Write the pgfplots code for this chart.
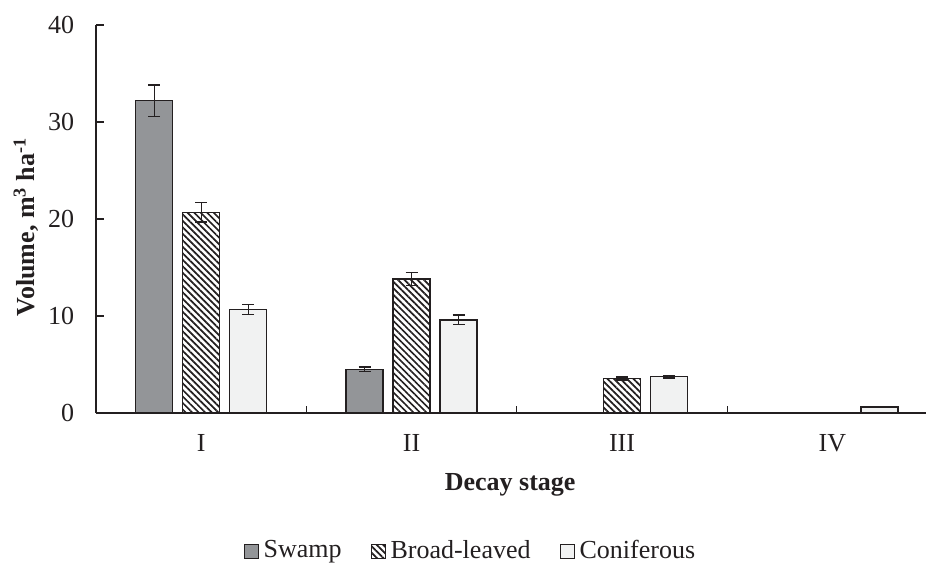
\documentclass[border=0pt]{standalone}
\usepackage{fontspec}
\setmainfont{Liberation Serif}
\usepackage{pgfplots}
\pgfplotsset{compat=1.18}
\usetikzlibrary{patterns.meta}
\definecolor{axcol}{HTML}{231F20}
\definecolor{swamp}{HTML}{939598}
\definecolor{conif}{HTML}{F1F2F2}
\newcommand{\bigfont}{\fontsize{26}{30}\selectfont}
\begin{document}
\bigfont
\begin{tikzpicture}[x=1pt,y=1pt]
\useasboundingbox (0,0) rectangle (928,565);
\begin{axis}[
  at={(96pt,152pt)}, anchor=south west,
  width=830pt, height=388pt, scale only axis,
  xmin=-0.5, xmax=3.445, ymin=0, ymax=40,
  axis lines*=left,
  axis line style={-, draw=axcol, line width=1.3pt},
  ybar,
  ytick={0,10,20,30,40},
  xtick={0,1,2,3}, xticklabels={I,II,III,IV},
  minor xtick={0.5,1.5,2.5},
  major x tick style={draw=none},
  minor x tick style={draw=axcol, line width=1.3pt},
  y tick style={draw=axcol, line width=1.3pt},
  tick align=inside,
  major tick length=8pt, minor tick length=7pt,
  /pgf/number format/assume math mode=true,
  tick label style={font=\bigfont, text=axcol},
  yticklabel style={xshift=-13pt},
  xticklabel style={yshift=-13pt},
  ylabel={\bfseries Volume, m\textsuperscript{3} ha\textsuperscript{-1}},
  ylabel style={at={(axis description cs:-0.0843,0.479)}, anchor=center, font=\bigfont, text=axcol},
  xlabel={\bfseries Decay stage},
  xlabel style={at={(axis description cs:0.499,-0.1856)}, anchor=center, font=\bigfont, text=axcol},
  bar width=37pt,
  legend style={at={(axis description cs:0.451,-0.356)}, anchor=center, draw=none, fill=none,
    font=\bigfont, text=axcol, legend columns=3,
    /tikz/every even column/.append style={column sep=27pt},
    /tikz/every odd column/.append style={column sep=3pt}},
  legend image code/.code={\draw[#1,/tikz/.cd,line width=1pt] (0pt,-7pt) rectangle (14pt,7pt);},
  error bars/y dir=both, error bars/y explicit,
  error bars/error bar style={line width=1.3pt, draw=axcol},
  error bars/error mark options={rotate=90, mark size=6pt, line width=1.3pt, draw=axcol},
]
\addplot[ybar, bar shift=-47pt, fill=swamp, draw=axcol, line width=1.3pt]
  coordinates {(0,32.2) +- (0,1.6) (1,4.5) +- (0,0.25)};
\addlegendentry{Swamp}
\addplot[ybar, bar shift=0pt, draw=axcol, line width=1.3pt,
  pattern={Lines[angle=-45, distance=4.6pt, line width=1.7pt]}, pattern color=axcol]
  coordinates {(0,20.7) +- (0,1.0) (1,13.8) +- (0,0.65) (2,3.55) +- (0,0.15)};
\addlegendentry{Broad-leaved}
\addplot[ybar, bar shift=47pt, fill=conif, draw=axcol, line width=1.3pt]
  coordinates {(0,10.65) +- (0,0.5) (1,9.6) +- (0,0.5) (2,3.75) +- (0,0.15) (3,0.62) +- (0,0.05)};
\addlegendentry{Coniferous}
\end{axis}
\end{tikzpicture}
\end{document}
